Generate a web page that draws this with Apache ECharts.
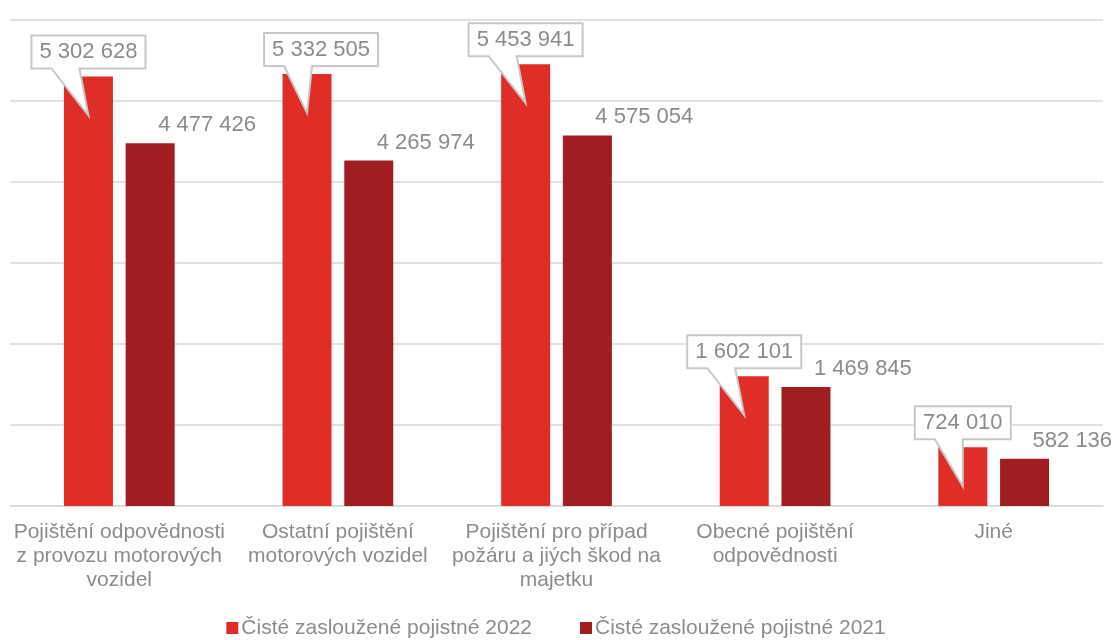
<!DOCTYPE html>
<html><head><meta charset="utf-8">
<script src="https://cdn.jsdelivr.net/npm/echarts@6/dist/echarts.min.js"></script>
<style>html,body{margin:0;padding:0;background:#fff}#c{width:1112px;height:640px}</style>
</head><body><div id="c"></div>
<script>
const categories = [
  'Pojištění odpovědnosti\nz provozu motorových\nvozidel',
  'Ostatní pojištění\nmotorových vozidel',
  'Pojištění pro případ\npožáru a jiých škod na\nmajetku',
  'Obecné pojištění\nodpovědnosti',
  'Jiné'
];
const seriesNames = ['Čisté zasloužené pojistné 2022', 'Čisté zasloužené pojistné 2021'];
const values2022 = [5302628, 5332505, 5453941, 1602101, 724010];
const values2021 = [4477426, 4265974, 4575054, 1469845, 582136];
const yTicks = [0, 1000000, 2000000, 3000000, 4000000, 5000000, 6000000];

const FONT = '"Liberation Sans", Arial, sans-serif';
const RED = '#E02D27', DARK = '#A01D21', GRAY = '#8C8C8C';
const BAR_W = 49, BAR_GAP = 0.26;
const calloutShift = [0, 14, 0, 0, 0];

function fmt(v){ return String(v).replace(/\B(?=(\d{3})+(?!\d))/g, ' '); }
const mctx = document.createElement('canvas').getContext('2d');
mctx.font = '22px "Liberation Sans"';

const chart = echarts.init(document.getElementById('c'), null, {renderer:'canvas'});
chart.setOption({
  animation: false,
  textStyle: {fontFamily: FONT},
  grid: {left: 10, right: 9, top: 20, bottom: 134, containLabel: false},
  legend: {
    top: 612, left: 'center', itemWidth: 12, itemHeight: 12, itemGap: 48,
    icon: 'rect', padding: [5, 5, 0, 5],
    textStyle: {fontSize: 21, lineHeight: 22, color: '#8C8C8C', fontFamily: FONT, padding: [0,0,0,-2]},
    data: seriesNames
  },
  xAxis: {
    type: 'category', data: categories,
    axisLine: {lineStyle: {color: '#D9D9D9', width: 1.5}},
    axisTick: {show: false},
    axisLabel: {fontSize: 21, color: '#8C8C8C', lineHeight: 24, margin: 14, interval: 0, fontFamily: FONT}
  },
  yAxis: {
    type: 'value', min: yTicks[0], max: yTicks[yTicks.length-1], interval: yTicks[1]-yTicks[0],
    axisLabel: {show: false}, axisLine: {show: false}, axisTick: {show: false},
    splitLine: {lineStyle: {color: '#D9D9D9', width: 1.5}}
  },
  series: [
    {
      name: seriesNames[0], type: 'bar', data: values2022, barWidth: BAR_W, barGap: (BAR_GAP*100)+'%',
      itemStyle: {color: RED}
    },
    {
      name: seriesNames[1], type: 'bar', data: values2021, barWidth: BAR_W,
      itemStyle: {color: DARK},
      label: {show: true, position: 'top', align: 'left', distance: 7, offset: [8, 0],
        formatter: p => fmt(p.value), fontSize: 22, color: GRAY, fontFamily: FONT}
    },
    {
      name: 'callouts', type: 'custom', z: 5,
      data: values2022.map((v,i)=>[i, v]),
      encode: {x: 0, y: 1},
      tooltip: {show: false},
      renderItem: function(params, api){
        const i = api.value(0), v = api.value(1);
        const pt = api.coord([i, v]);
        const cx = pt[0] - (BAR_W + BAR_W*BAR_GAP)/2;
        const top = pt[1];
        const txt = fmt(v);
        const tw = mctx.measureText(txt).width;
        const w = Math.round(tw + 16), h = 33;
        const L = cx - w/2 + calloutShift[i], R = L + w;
        const B = top - 8, T = B - h;
        const tip = [cx, top + 39];
        const pts = [[L,T],[R,T],[R,B],[L+48,B],tip,[L+20,B],[L,B]];
        return {
          type: 'group',
          children: [
            {type: 'polygon', shape: {points: pts},
             style: {fill: '#fff', stroke: '#C8C8C8', lineWidth: 2}},
            {type: 'text', style: {text: txt, x: (L+R)/2, y: (T+B)/2, align: 'center', verticalAlign: 'middle',
              fill: GRAY, font: '22px ' + FONT}}
          ]
        };
      }
    }
  ]
});
</script></body></html>
